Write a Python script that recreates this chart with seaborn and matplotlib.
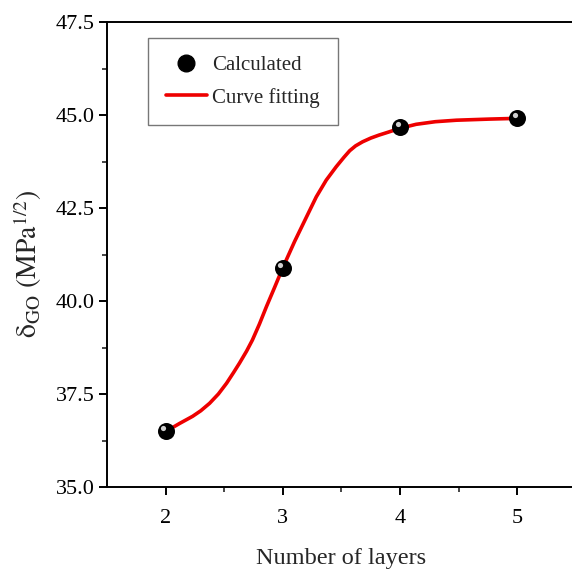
import matplotlib
matplotlib.use("Agg")
import matplotlib.pyplot as plt
import matplotlib.transforms as mtransforms
from matplotlib.lines import Line2D
import seaborn as sns
import pandas as pd

# Calculated points
layers = [2, 3, 4, 5]
delta_go = [36.5, 40.9, 44.68, 44.92]

# Curve fitting line
fit_x = [2.0, 2.06, 2.12, 2.23, 2.3, 2.375, 2.45, 2.52, 2.58, 2.63, 2.69, 2.74,
         2.8, 2.86, 2.93, 3.0, 3.1, 3.2, 3.285, 3.37, 3.455, 3.52, 3.57, 3.62,
         3.68, 3.75, 3.82, 3.9, 3.995, 4.137, 4.3, 4.48, 4.76, 5.0]
fit_y = [36.5, 36.6, 36.71, 36.9, 37.05, 37.25, 37.5, 37.79, 38.08, 38.33, 38.65, 38.95,
         39.38, 39.85, 40.37, 40.9, 41.6, 42.25, 42.8, 43.25, 43.61, 43.86, 44.04, 44.17,
         44.28, 44.38, 44.46, 44.54, 44.64, 44.75, 44.82, 44.86, 44.89, 44.91]

x_ticks = [2, 3, 4, 5]
y_ticks = [35.0, 37.5, 40.0, 42.5, 45.0, 47.5]

sns.set_style("ticks")
plt.rcParams['font.family'] = ['Liberation Serif', 'DejaVu Serif']
plt.rcParams['mathtext.fontset'] = 'stix'

fig = plt.figure(figsize=(5.72, 5.73), dpi=100)
ax = fig.add_axes([107/572, 86/573, 469/572, 465/573])

pts = pd.DataFrame({"x": layers, "y": delta_go})
fit = pd.DataFrame({"x": fit_x, "y": fit_y})

sns.lineplot(data=fit, x="x", y="y", ax=ax, color="#ee0000", linewidth=2.6,
             sort=False, zorder=2)
sns.scatterplot(data=pts, x="x", y="y", ax=ax, color="black", s=150,
                marker="o", edgecolor="black", linewidth=0, zorder=3)
hl = mtransforms.offset_copy(ax.transData, fig=fig, x=-2.5, y=3, units="dots")
ax.scatter(layers, delta_go, s=14, color="#d0d0d0", transform=hl, zorder=4,
           linewidths=0)

ax.set_xlim(1.5, 5.5)
ax.set_ylim(35.0, 47.5)
ax.set_xticks(x_ticks)
ax.set_xticklabels([str(v) for v in x_ticks])
ax.set_yticks(y_ticks)
ax.set_yticklabels([f"{v:.1f}" for v in y_ticks])
ax.set_xticks([2.5, 3.5, 4.5], minor=True)
ax.set_yticks([36.25, 38.75, 41.25, 43.75, 46.25], minor=True)

ax.tick_params(axis="both", which="major", direction="out", length=6, width=1.4,
               labelsize=16, colors="black", pad=3)
ax.tick_params(axis="both", which="minor", direction="out", length=3.5, width=1.2)
ax.tick_params(axis="x", which="major", pad=10)
for s in ["left", "bottom", "top", "right"]:
    ax.spines[s].set_linewidth(1.4)
    ax.spines[s].set_color("black")

ax.set_xlabel("Number of layers", fontsize=17.5, labelpad=14)
ax.set_ylabel(r"$\mathrm{\delta}_{\mathrm{GO}}\ \mathrm{(MPa}^{1/2}\mathrm{)}$",
              fontsize=20)
ax.yaxis.set_label_coords(-0.135, 0.48)

handles = [
    Line2D([], [], marker="o", linestyle="none", color="black", markersize=12),
    Line2D([], [], color="#ee0000", linewidth=2.6),
]
leg = ax.legend(handles, ["Calculated", "Curve fitting"], loc="upper left",
                bbox_to_anchor=(0.087, 0.966), borderaxespad=0, fontsize=15,
                frameon=True, fancybox=False, edgecolor="#555555",
                handlelength=2.0, handletextpad=0.25, borderpad=0.85,
                labelspacing=0.6)
leg.get_frame().set_linewidth(1.0)

fig.savefig("out.png", dpi=100)
